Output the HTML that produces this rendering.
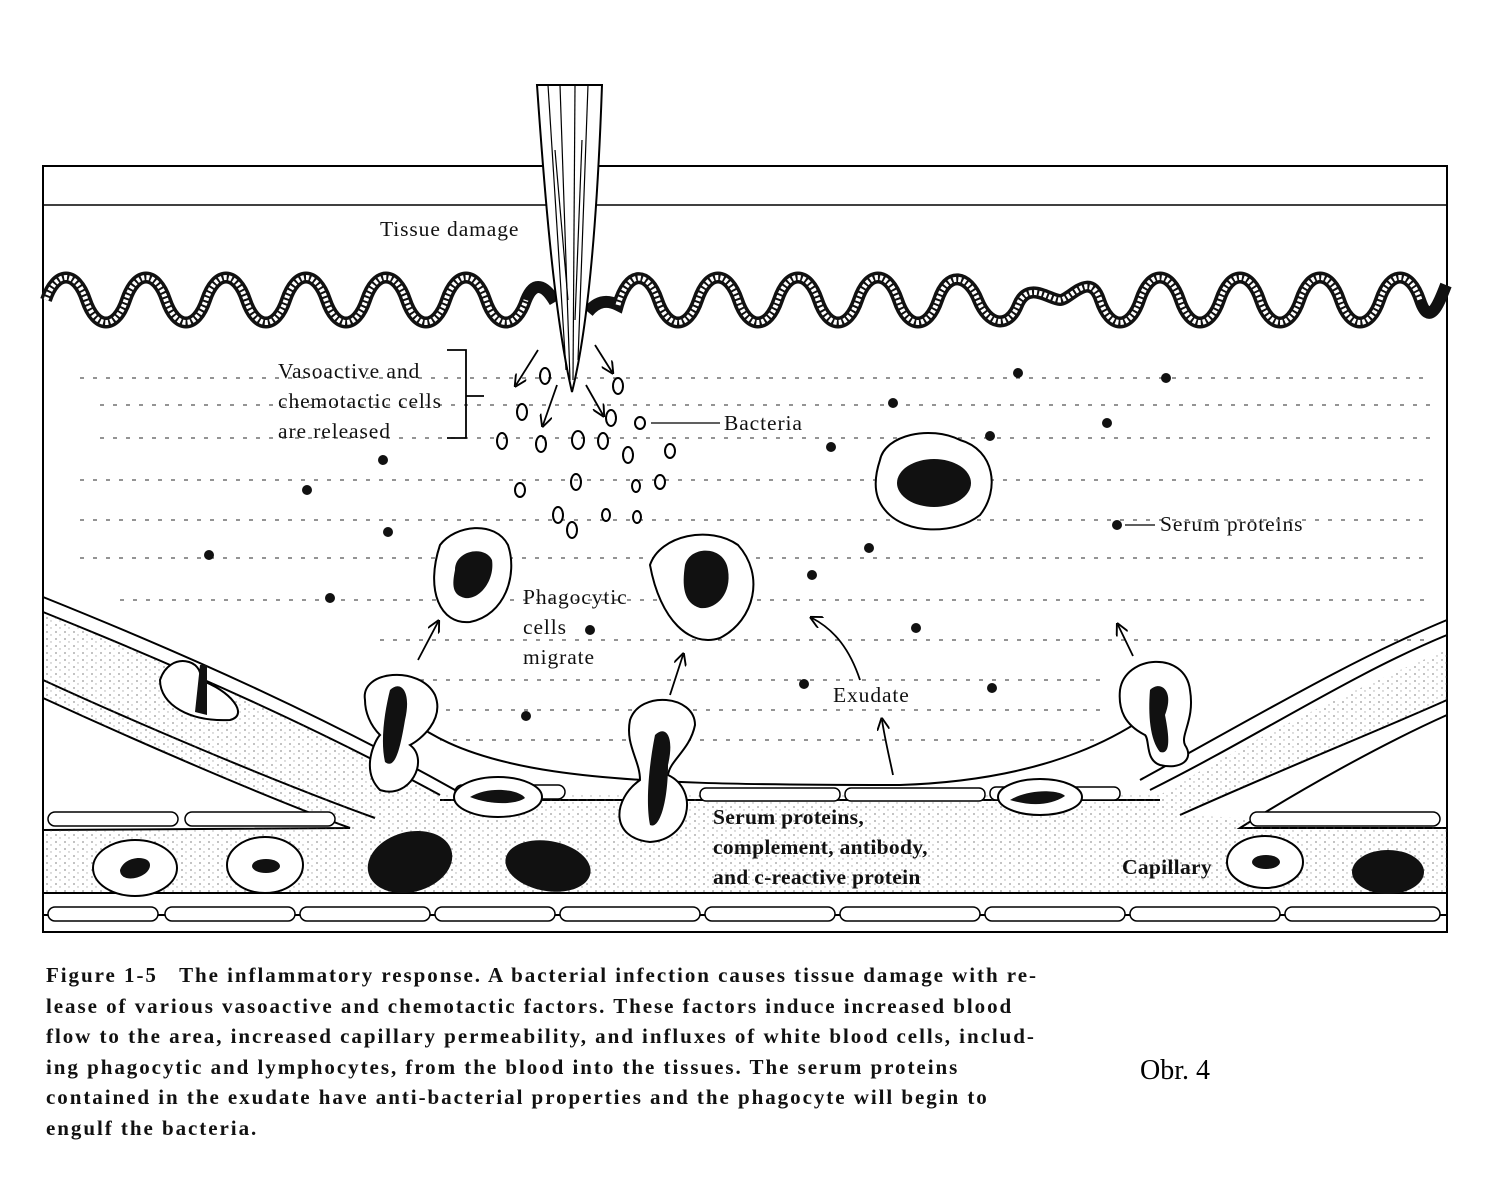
<!DOCTYPE html>
<html><head><meta charset="utf-8"><style>
html,body{margin:0;padding:0;background:#fff}
body{width:1509px;height:1202px;position:relative;overflow:hidden;font-family:"Liberation Serif",serif}
.cap{position:absolute;left:46px;top:960px;font-size:21px;line-height:30.5px;color:#111;font-weight:bold;letter-spacing:1.95px;white-space:nowrap}
.obr{position:absolute;left:1140px;top:1055px;font-size:28px;color:#000}
</style></head><body>
<svg width="1509" height="1202" style="position:absolute;left:0;top:0" font-family="Liberation Serif, serif">
<defs>
<marker id="ar" viewBox="0 0 10 10" refX="8" refY="5" markerWidth="7" markerHeight="7" orient="auto"><path d="M0,0 L10,5 L0,10" fill="none" stroke="#000" stroke-width="1.5"/></marker>
<pattern id="dots" width="9" height="7" patternUnits="userSpaceOnUse"><circle cx="2" cy="2" r="0.9" fill="#444"/><circle cx="6" cy="5" r="0.7" fill="#666"/></pattern>
</defs>
<rect x="43" y="166" width="1404" height="766" fill="none" stroke="#000" stroke-width="2"/>
<line x1="43" y1="205" x2="1447" y2="205" stroke="#000" stroke-width="1.5"/>
<g stroke="#555" stroke-width="1.3" stroke-dasharray="4 9">
<line x1="80" y1="378" x2="1430" y2="378"/><line x1="100" y1="405" x2="1430" y2="405"/>
<line x1="100" y1="438" x2="1430" y2="438"/><line x1="80" y1="480" x2="1430" y2="480"/>
<line x1="80" y1="520" x2="1430" y2="520"/><line x1="80" y1="558" x2="1430" y2="558"/>
<line x1="120" y1="600" x2="1430" y2="600"/><line x1="380" y1="640" x2="1430" y2="640"/>
<line x1="420" y1="680" x2="1100" y2="680"/><line x1="420" y1="710" x2="1100" y2="710"/>
<line x1="440" y1="740" x2="1100" y2="740"/>
</g>
<path d="M46,300 C56,270 76,270 86,300 S116,330 126,300 S156,270 166,300 S196,330 206,300 S236,270 246,300 S276,330 286,300 S316,270 326,300 S356,330 366,300 S396,270 406,300 S436,330 446,300 S476,270 486,300 S516,330 526,300 C534,280 545,285 555,302 M588,312 C598,300 608,300 618,305 C628,270 648,270 658,300 S688,330 698,300 S728,270 738,300 S768,330 778,300 S808,270 818,300 S848,330 858,300 S888,270 898,300 S928,330 938,300 S968,275 978,300 S1008,330 1018,305 S1050,300 1060,300 S1090,270 1100,300 S1130,330 1140,300 S1170,270 1180,300 S1210,330 1220,300 S1250,270 1260,300 S1290,330 1300,300 S1330,270 1340,300 S1370,330 1380,300 S1410,270 1420,300 S1440,300 1446,285" fill="none" stroke="#111" stroke-width="12"/>
<path d="M46,300 C56,270 76,270 86,300 S116,330 126,300 S156,270 166,300 S196,330 206,300 S236,270 246,300 S276,330 286,300 S316,270 326,300 S356,330 366,300 S396,270 406,300 S436,330 446,300 S476,270 486,300 S516,330 526,300 M618,305 C628,270 648,270 658,300 S688,330 698,300 S728,270 738,300 S768,330 778,300 S808,270 818,300 S848,330 858,300 S888,270 898,300 S928,330 938,300 S968,275 978,300 S1008,330 1018,305 S1050,300 1060,300 S1090,270 1100,300 S1130,330 1140,300 S1170,270 1180,300 S1210,330 1220,300 S1250,270 1260,300 S1290,330 1300,300 S1330,270 1340,300 S1370,330 1380,300 S1410,270 1420,300" fill="none" stroke="#fff" stroke-width="5" stroke-dasharray="3 2"/>
<path d="M537,85 L602,85 C598,200 590,320 572,392 C555,320 545,200 537,85 Z" fill="#fff" stroke="#000" stroke-width="2"/>
<g stroke="#000" stroke-width="1.2" fill="none"><path d="M548,85 L566,370"/><path d="M560,85 L570,380"/><path d="M575,85 L573,380"/><path d="M588,85 L578,360"/><path d="M555,150 L568,300"/><path d="M582,140 L575,320"/></g>
<g stroke="#000" stroke-width="1.8" fill="none" marker-end="url(#ar)">
<line x1="538" y1="350" x2="516" y2="385"/><line x1="557" y1="385" x2="543" y2="425"/>
<line x1="586" y1="385" x2="603" y2="415"/><line x1="595" y1="345" x2="612" y2="372"/>
</g>
<g fill="none" stroke="#000" stroke-width="2">
<ellipse cx="545" cy="376" rx="5" ry="8"/><ellipse cx="618" cy="386" rx="5" ry="8"/><ellipse cx="522" cy="412" rx="5" ry="8"/><ellipse cx="611" cy="418" rx="5" ry="8"/><ellipse cx="640" cy="423" rx="5" ry="6"/>
<ellipse cx="502" cy="441" rx="5" ry="8"/><ellipse cx="541" cy="444" rx="5" ry="8"/><ellipse cx="578" cy="440" rx="6" ry="9"/><ellipse cx="603" cy="441" rx="5" ry="8"/><ellipse cx="628" cy="455" rx="5" ry="8"/><ellipse cx="670" cy="451" rx="5" ry="7"/>
<ellipse cx="520" cy="490" rx="5" ry="7"/><ellipse cx="576" cy="482" rx="5" ry="8"/><ellipse cx="636" cy="486" rx="4" ry="6"/><ellipse cx="660" cy="482" rx="5" ry="7"/>
<ellipse cx="558" cy="515" rx="5" ry="8"/><ellipse cx="572" cy="530" rx="5" ry="8"/><ellipse cx="606" cy="515" rx="4" ry="6"/><ellipse cx="637" cy="517" rx="4" ry="6"/>
</g>
<line x1="651" y1="423" x2="720" y2="423" stroke="#000" stroke-width="1.3"/>
<path d="M447,350 L466,350 L466,438 L447,438 M466,396 L484,396" fill="none" stroke="#000" stroke-width="1.8"/>
<g fill="#111">
<circle cx="383" cy="460" r="5"/><circle cx="307" cy="490" r="5"/><circle cx="388" cy="532" r="5"/><circle cx="209" cy="555" r="5"/><circle cx="330" cy="598" r="5"/>
<circle cx="590" cy="630" r="5"/><circle cx="526" cy="716" r="5"/><circle cx="1018" cy="373" r="5"/><circle cx="1166" cy="378" r="5"/><circle cx="893" cy="403" r="5"/>
<circle cx="990" cy="436" r="5"/><circle cx="1107" cy="423" r="5"/><circle cx="831" cy="447" r="5"/><circle cx="1117" cy="525" r="5"/><circle cx="869" cy="548" r="5"/>
<circle cx="812" cy="575" r="5"/><circle cx="916" cy="628" r="5"/><circle cx="804" cy="684" r="5"/><circle cx="992" cy="688" r="5"/>
</g>
<line x1="1125" y1="525" x2="1155" y2="525" stroke="#000" stroke-width="1.3"/>
<g stroke="#000" stroke-width="2" fill="#fff">
<path d="M440,545 C455,525 495,520 508,545 C518,575 505,615 470,622 C440,625 425,590 440,545 Z"/>
<path d="M650,565 C660,535 710,525 738,545 C765,575 755,620 720,638 C690,648 660,620 650,565 Z"/>
<path d="M880,460 C885,435 930,425 960,440 C995,450 1000,490 980,515 C955,535 905,535 885,510 C872,495 875,475 880,460 Z"/>
</g>
<g fill="#111">
<path d="M455,570 C455,550 485,545 492,560 C495,580 480,600 465,598 C452,595 452,585 455,570 Z"/>
<path d="M685,565 C690,545 725,545 728,570 C732,595 715,610 700,608 C683,603 682,585 685,565 Z"/>
<ellipse cx="934" cy="483" rx="37" ry="24"/>
</g>
<g fill="none" stroke="#000" stroke-width="2">
<path d="M43,597 C200,660 330,720 455,790"/>
<path d="M43,612 C200,675 330,735 440,795"/>
<path d="M43,680 C130,720 270,780 375,818"/>
<path d="M43,698 C130,738 260,795 350,828 L43,830"/>
<path d="M380,690 C450,780 600,785 900,785 C1050,780 1130,735 1180,690"/>
<path d="M1447,620 C1350,660 1250,720 1140,780"/>
<path d="M1447,635 C1350,675 1260,735 1150,790"/>
<path d="M1447,700 C1380,730 1280,770 1180,815"/>
<path d="M1447,715 C1380,745 1300,790 1240,828 L1447,828"/>
<line x1="43" y1="893" x2="1447" y2="893"/>
<line x1="43" y1="915" x2="1447" y2="915"/>
<line x1="440" y1="800" x2="1160" y2="800"/>
</g>
<path d="M43,612 C200,675 330,735 440,795 L1160,795 C1250,740 1350,690 1447,650 L1447,700 C1380,730 1280,770 1180,815 L1447,828 L1447,893 L43,893 L43,830 L350,828 C260,795 130,738 43,698 Z" fill="url(#dots)" opacity="0.55"/>
<g fill="#fff" stroke="#000" stroke-width="1.5">
<rect x="48" y="907" width="110" height="14" rx="7"/><rect x="165" y="907" width="130" height="14" rx="7"/><rect x="300" y="907" width="130" height="14" rx="7"/><rect x="435" y="907" width="120" height="14" rx="7"/><rect x="560" y="907" width="140" height="14" rx="7"/><rect x="705" y="907" width="130" height="14" rx="7"/><rect x="840" y="907" width="140" height="14" rx="7"/><rect x="985" y="907" width="140" height="14" rx="7"/><rect x="1130" y="907" width="150" height="14" rx="7"/><rect x="1285" y="907" width="155" height="14" rx="7"/>
<rect x="48" y="812" width="130" height="14" rx="7"/><rect x="185" y="812" width="150" height="14" rx="7"/>
<rect x="455" y="785" width="110" height="14" rx="7"/><rect x="700" y="788" width="140" height="13" rx="6"/><rect x="845" y="788" width="140" height="13" rx="6"/><rect x="990" y="787" width="130" height="13" rx="6"/>
<rect x="1250" y="812" width="190" height="14" rx="7"/>
</g>
<g stroke="#000" stroke-width="2" fill="#fff">
<ellipse cx="135" cy="868" rx="42" ry="28"/><ellipse cx="265" cy="865" rx="38" ry="28"/><ellipse cx="1265" cy="862" rx="38" ry="26"/>
<ellipse cx="498" cy="797" rx="44" ry="20"/><ellipse cx="1040" cy="797" rx="42" ry="18"/>
<path d="M160,680 C170,650 205,660 200,680 C230,690 250,715 230,720 C190,722 160,705 160,680 Z"/>
<path d="M365,700 C360,670 420,665 435,695 C445,720 420,740 410,745 C430,760 410,800 380,790 C360,770 375,740 380,735 C370,725 365,712 365,700 Z"/>
<path d="M630,720 C640,690 695,695 695,725 C690,750 670,760 668,775 C700,790 690,840 650,842 C610,838 612,800 640,780 C640,760 625,745 630,720 Z"/>
<path d="M1120,690 C1125,655 1185,650 1190,690 C1195,720 1180,735 1185,745 C1195,760 1180,770 1160,765 C1145,760 1150,740 1145,735 C1125,725 1118,710 1120,690 Z"/>
</g>
<g fill="#111">
<path d="M120,870 C125,855 150,855 150,865 C150,878 120,885 120,870 Z"/><ellipse cx="266" cy="866" rx="14" ry="7"/><ellipse cx="1266" cy="862" rx="14" ry="7"/>
<ellipse cx="410" cy="862" rx="43" ry="30" transform="rotate(-15 410 862)"/><ellipse cx="548" cy="866" rx="43" ry="25" transform="rotate(10 548 866)"/><ellipse cx="1388" cy="872" rx="36" ry="22"/>
<path d="M470,797 C490,785 520,790 525,798 C515,805 490,805 470,797 Z"/><path d="M1010,800 C1030,788 1060,790 1065,796 C1050,806 1030,806 1010,800 Z"/>
<path d="M200,665 L207,665 L207,715 L195,712 Z"/>
<path d="M390,690 C400,680 412,690 405,720 C400,750 395,770 385,762 C380,740 385,710 390,690 Z"/>
<path d="M655,735 C665,725 675,735 668,765 C668,800 660,830 650,825 C645,800 650,760 655,735 Z"/>
<path d="M1150,690 C1160,680 1175,690 1165,715 C1170,740 1170,755 1160,752 C1150,740 1148,715 1150,690 Z"/>
</g>
<g stroke="#000" stroke-width="1.8" fill="none" marker-end="url(#ar)">
<line x1="418" y1="660" x2="438" y2="622"/><line x1="670" y1="695" x2="683" y2="655"/>
<path d="M860,680 C850,650 835,630 812,618"/><path d="M893,775 C890,760 885,740 882,720"/>
<line x1="1133" y1="656" x2="1118" y2="625"/>
</g>
<g font-size="21.5" fill="#111" letter-spacing="0.9">
<text x="380" y="236">Tissue damage</text>
<text x="278" y="378">Vasoactive and</text>
<text x="278" y="408">chemotactic cells</text>
<text x="278" y="438">are released</text>
<text x="724" y="430">Bacteria</text>
<text x="1160" y="531">Serum proteins</text>
<text x="523" y="604">Phagocytic</text>
<text x="523" y="634">cells</text>
<text x="523" y="664">migrate</text>
<text x="833" y="702">Exudate</text>
<text x="713" y="824" font-weight="bold" letter-spacing="0.3">Serum proteins,</text>
<text x="713" y="854" font-weight="bold" letter-spacing="0.3">complement, antibody,</text>
<text x="713" y="884" font-weight="bold" letter-spacing="0.3">and c-reactive protein</text>
<text x="1122" y="874" font-weight="bold" letter-spacing="0.3">Capillary</text>
</g>
</svg>
<div class="cap">Figure 1-5&nbsp;&nbsp; The inflammatory response. A bacterial infection causes tissue damage with re-<br>lease of various vasoactive and chemotactic factors. These factors induce increased blood<br>flow to the area, increased capillary permeability, and influxes of white blood cells, includ-<br>ing phagocytic and lymphocytes, from the blood into the tissues. The serum proteins<br>contained in the exudate have anti-bacterial properties and the phagocyte will begin to<br>engulf the bacteria.</div>
<div class="obr">Obr. 4</div>
</body></html>
